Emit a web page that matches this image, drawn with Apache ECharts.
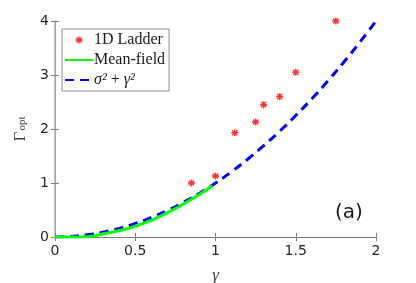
<!DOCTYPE html>
<html><head><meta charset="utf-8">
<script src="https://cdn.jsdelivr.net/npm/echarts@6/dist/echarts.min.js"></script>
<style>html,body{margin:0;padding:0;background:#fff;}#c{width:416px;height:283px;}</style>
</head><body><div id="c"></div>
<script>
var ladderX = [0.85, 1.0, 1.12, 1.25, 1.3, 1.4, 1.5, 1.75];
var ladderY = [1.0, 1.13, 1.93, 2.13, 2.45, 2.6, 3.05, 4.0];
var mfX = [0, 0.1, 0.2, 0.3, 0.4, 0.5, 0.6, 0.7, 0.8, 0.9, 0.98];
var mfY = [0, 0, 0.005, 0.06, 0.12, 0.2, 0.31, 0.45, 0.61, 0.79, 0.95];
var fitX = [0, 0.1, 0.2, 0.3, 0.4, 0.5, 0.6, 0.7, 0.8, 0.9, 1.0, 1.1, 1.2, 1.3, 1.4, 1.5, 1.6, 1.7, 1.8, 1.9, 2.0];
var fitY = [0, 0.01, 0.04, 0.09, 0.16, 0.25, 0.36, 0.49, 0.64, 0.81, 1.0, 1.21, 1.44, 1.69, 1.96, 2.25, 2.56, 2.89, 3.24, 3.61, 4.0];
var xTicks = ['0', '0.5', '1', '1.5', '2'];
var yTicks = ['0', '1', '2', '3', '4'];

function pairs(xs, ys) { return xs.map(function (x, i) { return [x, ys[i]]; }); }
var star = 'path://M4 0H6V10H4Z M0 4H10V6H0Z M0.6 2L2 0.6L9.4 8L8 9.4Z M8 0.6L9.4 2L2 9.4L0.6 8Z';
var axisCol = '#7f7f7f';
var chart = echarts.init(document.getElementById('c'));
chart.setOption({
  animation: false,
  grid: { left: 55, right: 40, top: 21, bottom: 46, outerBoundsMode: 'none', containLabel: false },
  xAxis: [{
    type: 'value', min: 0, max: 2, interval: 0.5,
    axisLine: { lineStyle: { color: axisCol } },
    axisTick: { inside: true, length: 4, lineStyle: { color: axisCol } },
    splitLine: { show: false },
    axisLabel: { color: '#262626', fontSize: 14, fontFamily: 'DejaVu Sans', margin: 7,
      formatter: function (v) { return xTicks[Math.round(v / 0.5)]; } },
    name: 'γ', nameLocation: 'middle', nameGap: 30,
    nameTextStyle: { fontFamily: 'Liberation Serif', fontStyle: 'italic', fontSize: 17, color: '#404040' }
  }, {
    type: 'value', min: 0, max: 2, interval: 0.5, position: 'top',
    axisLine: { lineStyle: { color: axisCol } },
    axisTick: { inside: true, length: 4, lineStyle: { color: axisCol } },
    axisLabel: { show: false }, splitLine: { show: false }
  }],
  yAxis: [{
    type: 'value', min: 0, max: 4, interval: 1,
    axisLine: { show: true, lineStyle: { color: axisCol } },
    axisTick: { show: true, inside: true, length: 4, lineStyle: { color: axisCol } },
    splitLine: { show: false },
    axisLabel: { color: '#262626', fontSize: 14, fontFamily: 'DejaVu Sans', margin: 6,
      formatter: function (v) { return yTicks[Math.round(v)]; } },
    name: '{g|Γ}{s|opt}', nameLocation: 'middle', nameGap: 15, nameRotate: 90,
    nameTextStyle: { rich: {
      g: { fontFamily: 'Liberation Serif', fontSize: 17, color: '#404040' },
      s: { fontFamily: 'Liberation Serif', fontSize: 11, color: '#404040', padding: [0, 0, -3, 1] }
    } }
  }, {
    type: 'value', min: 0, max: 4, interval: 1, position: 'right',
    axisLine: { show: true, lineStyle: { color: '#b3b3b3', width: 1.5 } },
    axisTick: { show: true, inside: true, length: 4, lineStyle: { color: axisCol } },
    axisLabel: { show: false }, splitLine: { show: false }
  }],
  legend: {
    orient: 'vertical', left: 62, top: 29, padding: [3, 4, 3, 2], itemGap: 4,
    itemWidth: 28, itemHeight: 7,
    backgroundColor: '#fff', borderColor: '#8c8c8c', borderWidth: 1,
    textStyle: { fontFamily: 'Liberation Serif', fontSize: 16, color: '#1a1a1a', padding: [0, 0, 0, -4],
      rich: { i: { fontFamily: 'Liberation Serif', fontStyle: 'italic', fontSize: 16, color: '#1a1a1a' },
              n: { fontFamily: 'Liberation Serif', fontSize: 16, color: '#1a1a1a' } } },
    formatter: function (n) {
      if (n === 'sig') return '{i|σ²} {n|+} {i|γ²}';
      return n;
    },
    data: [
      { name: '1D Ladder', icon: star, itemStyle: { color: '#ff0000' } },
      { name: 'Mean-field', itemStyle: { opacity: 0 } },
      { name: 'sig', itemStyle: { opacity: 0 } }
    ]
  },
  graphic: [{
    type: 'text', left: 335, top: 203,
    style: { text: '(a)', fontFamily: 'DejaVu Sans', fontSize: 20, fill: '#1a1a1a' }
  }],
  series: [{
    name: 'sig', type: 'line', data: pairs(fitX, fitY), showSymbol: false, symbol: 'none', smooth: true,
    lineStyle: { color: '#0000ff', width: 3, type: [9, 6] }, itemStyle: { color: '#0000ff' }, z: 2
  }, {
    name: 'Mean-field', type: 'line', data: pairs(mfX, mfY), showSymbol: false, symbol: 'none', smooth: true,
    lineStyle: { color: '#00ff00', width: 3 }, itemStyle: { color: '#00ff00' }, z: 3
  }, {
    name: '1D Ladder', type: 'scatter', data: pairs(ladderX, ladderY), symbol: star, symbolSize: 7,
    itemStyle: { color: '#ff0000' }, z: 4
  }]
});
</script></body></html>
